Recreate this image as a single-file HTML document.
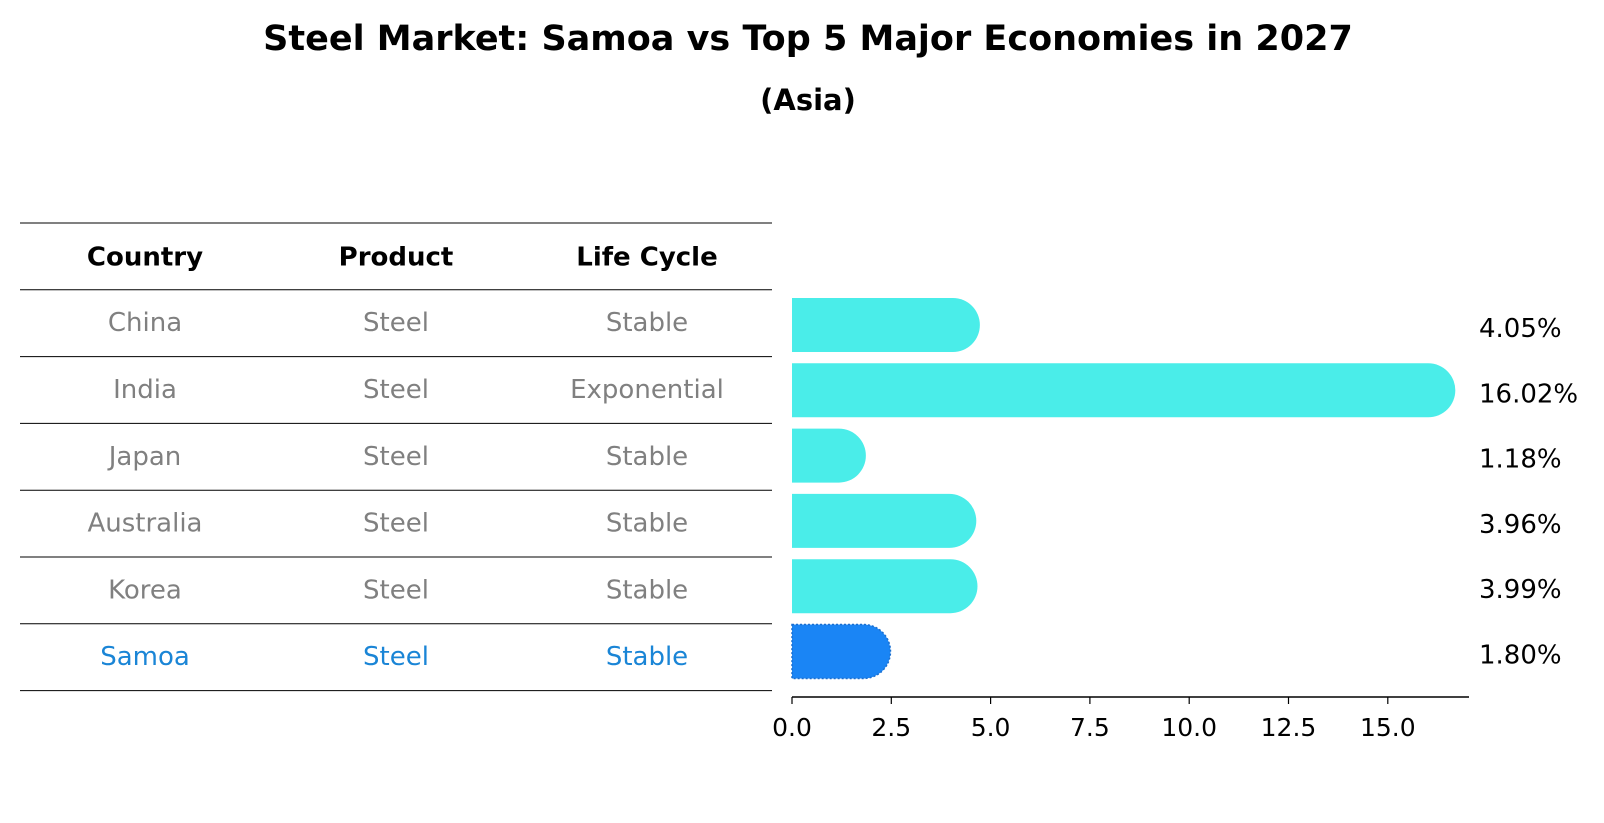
<!DOCTYPE html>
<html><head><meta charset="utf-8"><style>
body{margin:0;background:#fff;}
svg{display:block;font-family:"DejaVu Sans","Liberation Sans",sans-serif;}
</style></head><body>
<svg id="chart" width="1604" height="823" viewBox="0 0 1604 823">
<text x="808" y="50" text-anchor="middle" font-size="35" font-weight="bold">Steel Market: Samoa vs Top 5 Major Economies in 2027</text>
<text x="808" y="110" text-anchor="middle" font-size="29" font-weight="bold">(Asia)</text>
<g id="table"></g>
<g id="bars"></g>
</svg>
<script>
const countries = ["China","India","Japan","Australia","Korea","Samoa"];
const products = ["Steel","Steel","Steel","Steel","Steel","Steel"];
const lifeCycles = ["Stable","Exponential","Stable","Stable","Stable","Stable"];
const values = [4.05,16.02,1.18,3.96,3.99,1.80];
const tickValues = [0,2.5,5,7.5,10,12.5,15];
const tickLabels = ["0.0","2.5","5.0","7.5","10.0","12.5","15.0"];
const highlight = "Samoa";

const NS="http://www.w3.org/2000/svg";
function mk(tag,attrs,parent){const e=document.createElementNS(NS,tag);for(const k in attrs)e.setAttribute(k,attrs[k]);parent.appendChild(e);return e;}
const x0=792, pxPerUnit=39.72;
function xs(v){return x0+v*pxPerUnit;}
const rowTop=223, rowH=66.8, barStep=65.3, barC0=325;
function yc(i){return barC0+i*barStep;}

const table=document.getElementById('table');
const colX=[145,396,647];
const headers=["Country","Product","Life Cycle"];
const hdrNames=['header-country','header-product','header-life-cycle'];
for(let r=0;r<=countries.length+1;r++){
  const ln=mk('line',{x1:20,x2:772,y1:rowTop+r*rowH,y2:rowTop+r*rowH,stroke:'#000','stroke-width':1},table);
  
  
}
headers.forEach((h,c)=>{
  const t=mk('text',{x:colX[c],y:rowTop+rowH/2+9,'text-anchor':'middle','font-size':26,'font-weight':'bold'},table);
  t.textContent=h;
  
  
});
countries.forEach((cn,i)=>{
  const col=cn===highlight?'#1a85d6':'#808080';
  [cn,products[i],lifeCycles[i]].forEach((v,c)=>{
    const t=mk('text',{x:colX[c],y:rowTop+(i+1.5)*rowH+8,'text-anchor':'middle','font-size':26,fill:col},table);
    t.textContent=v;
    
    
  });
});

const bars=document.getElementById('bars');
const bh=54, r=27;
values.forEach((v,i)=>{
  const top=yc(i)-bh/2, xe=xs(v);
  const isH=countries[i]===highlight;
  const p=mk('path',{d:`M${x0},${top} H${xe} A${r},${r} 0 0 1 ${xe},${top+bh} H${x0} Z`,fill:isH?'#1a85f5':'#4aede9'},bars);
  if(isH){p.setAttribute('stroke','#1a6fd0');p.setAttribute('stroke-dasharray','2,2');p.setAttribute('stroke-width','1.5');}
  
  
  const t=mk('text',{x:1479,y:yc(i)+12,'font-size':26},bars);
  t.textContent=v.toFixed(2)+'%';
  
  
});
const axY=697;
const ax=mk('line',{x1:x0,x2:1469,y1:axY,y2:axY,stroke:'#000','stroke-width':1.5},bars);


tickValues.forEach((v,k)=>{
  const tk=mk('line',{x1:xs(v),x2:xs(v),y1:axY,y2:axY+7,stroke:'#000','stroke-width':1.2},bars);
  
  
  const t=mk('text',{x:xs(v),y:axY+39,'text-anchor':'middle','font-size':25},bars);
  t.textContent=tickLabels[k];
  
  
});
</script>
</body></html>
